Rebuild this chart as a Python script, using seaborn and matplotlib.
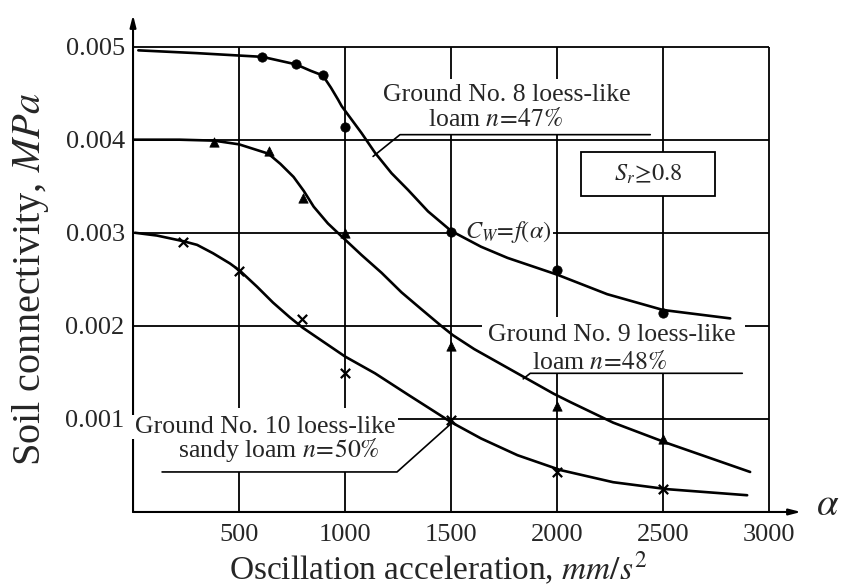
import matplotlib
matplotlib.use("Agg")
import matplotlib.pyplot as plt
import seaborn as sns
import pandas as pd
from matplotlib.patches import Rectangle

# ---------------- data ----------------
# fitted curves, x in mm/s^2, y in MPa
c8_x = [25, 300, 610, 767, 838, 895, 933, 967, 984, 1078, 1141, 1219, 1297, 1391, 1500,
        1641, 1766, 1922, 2000, 2236, 2500, 2816]
c8_y = [0.00496, 0.00493, 0.00489, 0.00481, 0.00474, 0.00469, 0.00456, 0.00443, 0.00436,
        0.00407, 0.00386, 0.00364, 0.00346, 0.00323, 0.00302, 0.00285, 0.00273, 0.00261,
        0.00255, 0.00234, 0.00217, 0.00208]
c9_x = [0, 219, 381, 500, 638, 695, 757, 805, 852, 919, 984, 1078, 1172, 1266, 1359, 1453,
        1508, 1609, 1734, 1859, 1984, 2063, 2264, 2519, 2910]
c9_y = [0.00400, 0.00400, 0.00399, 0.00395, 0.00385, 0.00374, 0.00360, 0.00345, 0.00328,
        0.00310, 0.00296, 0.00276, 0.00257, 0.00236, 0.00218, 0.00200, 0.00190, 0.00175,
        0.00159, 0.00143, 0.00127, 0.00118, 0.00096, 0.00074, 0.00043]
c10_x = [9, 113, 236, 302, 377, 457, 505, 585, 660, 740, 800, 1000, 1141, 1297, 1500, 1641,
         1813, 2016, 2264, 2519, 2896]
c10_y = [0.00300, 0.00297, 0.00291, 0.00287, 0.00278, 0.00267, 0.00259, 0.00242, 0.00225,
         0.00209, 0.00198, 0.00167, 0.00149, 0.00126, 0.000965, 0.00079, 0.00061, 0.00045,
         0.00032, 0.000245, 0.00018]

# measured points
m8_x = [610, 767, 895, 1000, 1500, 2000, 2500]
m8_y = [0.00489, 0.00481, 0.00469, 0.00414, 0.00301, 0.00260, 0.00214]
m9_x = [381, 640, 800, 1000, 1500, 2000, 2500]
m9_y = [0.00398, 0.00388, 0.00337, 0.00300, 0.00178, 0.00114, 0.00078]
m10_x = [236, 500, 797, 1000, 1500, 2000, 2500]
m10_y = [0.00290, 0.00259, 0.00207, 0.00149, 0.00099, 0.00043, 0.00025]

x_ticks = [500, 1000, 1500, 2000, 2500, 3000]
x_tick_labels = ["500", "1000", "1500", "2000", "2500", "3000"]
y_ticks = [0.001, 0.002, 0.003, 0.004, 0.005]
y_tick_labels = ["0.001", "0.002", "0.003", "0.004", "0.005"]

# ---------------- style ----------------
sns.set_style("white")
plt.rcParams["font.family"] = ["Liberation Serif", "DejaVu Serif"]
plt.rcParams["mathtext.fontset"] = "stix"

fig = plt.figure(figsize=(8.43, 5.87), dpi=100)
ax = fig.add_axes([0.1578, 0.1278, 0.7924, 0.8467])
ax.set_xlim(0, 3150)
ax.set_ylim(0, 0.00534)

# grid (limited to the chart frame)
ax.hlines(y_ticks, 0, 3000, color="k", lw=1.3, zorder=1)
ax.vlines(x_ticks, 0, 0.005, color="k", lw=1.3, zorder=1)

# white patches behind the labels
for (x0, x1, y0, y1) in [(1142, 2439, 0.004054, 0.00465),
                         (1646, 2887, 0.00148, 0.00209),
                         (9, 1250, 0.00043, 0.00112),
                         (1519, 1981, 0.00289, 0.00312)]:
    ax.add_patch(Rectangle((x0, y0), x1 - x0, y1 - y0, facecolor="white",
                           edgecolor="none", zorder=1.5))

# S_r box
ax.add_patch(Rectangle((2113, 0.00339), 632, 0.00048, facecolor="white",
                       edgecolor="k", lw=1.3, zorder=2))

# curves
for cx, cy in [(c8_x, c8_y), (c9_x, c9_y), (c10_x, c10_y)]:
    df = pd.DataFrame({"x": cx, "y": cy})
    sns.lineplot(data=df, x="x", y="y", ax=ax, color="k", lw=1.9,
                 sort=False, estimator=None, zorder=3)

# markers
sns.scatterplot(x=m8_x, y=m8_y, ax=ax, color="k", marker="o", s=45,
                edgecolor="k", zorder=4)
sns.scatterplot(x=m9_x, y=m9_y, ax=ax, color="k", marker="^", s=45,
                edgecolor="k", zorder=4)
sns.scatterplot(x=m10_x, y=m10_y, ax=ax, color="k", marker="x", s=45,
                linewidth=1.6, zorder=4)

# leader lines
lead = dict(color="k", lw=1.2, zorder=2)
ax.plot([1132, 1259, 2439], [0.00382, 0.004054, 0.004054], **lead)
ax.plot([1840, 1873, 2873], [0.00143, 0.00149, 0.00149], **lead)
ax.plot([137, 1245, 1500], [0.00043, 0.00043, 0.00095], **lead)

# annotation texts
fs = 18.5
ax.text(1179, 0.00448, "Ground No. 8 loess-like", fontsize=fs, ha="left", va="center", zorder=5)
ax.text(1392, 0.004215, r"loam $\mathit{n\!=\!47\%}$", fontsize=fs, ha="left", va="center", zorder=5)
ax.text(1675, 0.00190, "Ground No. 9 loess-like", fontsize=fs, ha="left", va="center", zorder=5)
ax.text(1882, 0.00161, r"loam $\mathit{n\!=\!48\%}$", fontsize=fs, ha="left", va="center", zorder=5)
ax.text(9, 0.00091, "Ground No. 10 loess-like", fontsize=fs, ha="left", va="center", zorder=5)
ax.text(212, 0.00067, r"sandy loam $\mathit{n\!=\!50\%}$", fontsize=fs, ha="left", va="center", zorder=5)
ax.text(1566, 0.00301, r"$C_W\!=\!f(\alpha)$", fontsize=17.5, ha="left", va="center", zorder=5)
ax.text(2429, 0.00363, r"$S_r\!\geq\!\mathit{0.8}$", fontsize=17.5, ha="center", va="center",
        zorder=5)

# axes: ticks, labels, arrows
ax.set_xticks(x_ticks)
ax.set_xticklabels(x_tick_labels)
ax.set_yticks(y_ticks)
ax.set_yticklabels(y_tick_labels)
ax.tick_params(axis="x", length=0, pad=9, labelsize=19)
ax.tick_params(axis="y", length=0, pad=6, labelsize=19)
for s in ["top", "right", "left", "bottom"]:
    ax.spines[s].set_visible(False)
ax.annotate("", xy=(1.0, 0), xytext=(0, 0), xycoords="axes fraction",
            arrowprops=dict(arrowstyle="-|>,head_length=0.7,head_width=0.18",
                            lw=1.5, color="k", shrinkA=0, shrinkB=0))
ax.annotate("", xy=(0, 1.0), xytext=(0, 0), xycoords="axes fraction",
            arrowprops=dict(arrowstyle="-|>,head_length=0.7,head_width=0.18",
                            lw=1.5, color="k", shrinkA=0, shrinkB=0))
# small break of the y axis behind the "Ground No. 10" label, as in the scan
ax.add_patch(Rectangle((-15, 0.00078), 24, 0.00026, facecolor="white",
                       edgecolor="none", zorder=4.5, clip_on=False))
ax.text(1.022, 0.014, r"$\alpha$", transform=ax.transAxes, fontsize=28,
        ha="left", va="center")

ax.set_xlabel(r"Oscillation acceleration, $\mathit{mm/s^2}$", fontsize=24, va="center")
ax.set_ylabel(r"Soil connectivity, $\mathit{MPa}$", fontsize=29, va="center")
ax.xaxis.set_label_coords(0.457, -0.113)
ax.yaxis.set_label_coords(-0.154, 0.469)

fig.savefig("out.png", dpi=100, facecolor="white")
